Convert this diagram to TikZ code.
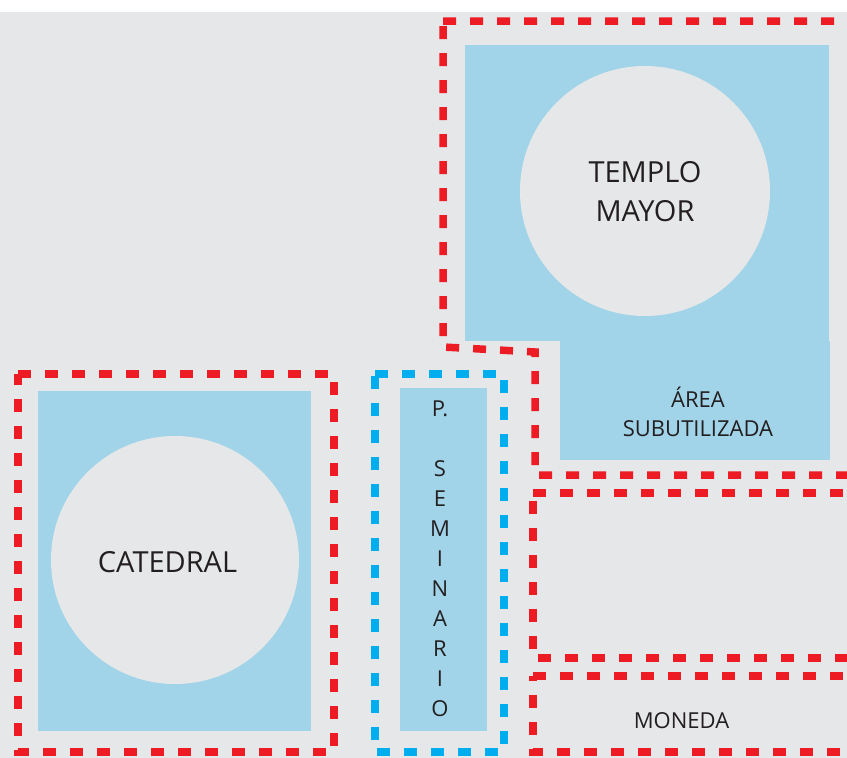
\documentclass[tikz,border=0pt]{standalone}
\usepackage{fontspec}
\setmainfont{Open Sans}
\definecolor{bggrey}{HTML}{E6E7E8}
\definecolor{areablue}{HTML}{A2D4E9}
\definecolor{redline}{HTML}{ED1C24}
\definecolor{cyanline}{HTML}{00AEEF}
\definecolor{txt}{HTML}{231F20}
\tikzset{
  reddash/.style={draw=redline, line width=7.5pt, dash pattern=on 13pt off 14pt},
  cyandash/.style={draw=cyanline, line width=7.5pt, dash pattern=on 13pt off 14pt},
  zone/.style={fill=areablue, draw=none},
  plaza/.style={fill=bggrey, draw=none},
  bigtxt/.style={text=txt, font=\fontsize{29}{39}\selectfont, align=center, inner sep=0pt},
  smalltxt/.style={text=txt, font=\fontsize{22}{29}\selectfont, align=center, inner sep=0pt},
  vtxt/.style={text=txt, font=\fontsize{22}{30}\selectfont, align=center, inner sep=0pt}
}
\begin{document}
\begin{tikzpicture}[x=1pt,y=-1pt]
\useasboundingbox (0,0) rectangle (847,758);
\fill[white] (0,0) rectangle (847,758);
\fill[bggrey] (0,12) rectangle (847,758);
% fills
\path[zone] (465,45) rectangle (829,341);
\path[zone] (560,341) rectangle (830,460);
\path[zone] (38,391) rectangle (311,731);
\path[zone] (400,388) rectangle (487,731);
\node[plaza, circle, minimum size=250pt, inner sep=0pt] (templocirc) at (645,191) {};
\node[plaza, circle, minimum size=248pt, inner sep=0pt] (catcirc) at (175,560) {};
% texts
\node[bigtxt] (templo) at (645,192) {TEMPLO\\MAYOR};
\node[bigtxt] (catedral) at (167.5,562) {CATEDRAL};
\node[smalltxt] (area) at (698,412) {ÁREA\\SUBUTILIZADA};
\node[smalltxt] (moneda) at (681.5,721) {MONEDA};
\node[vtxt] (seminario) at (440,558.5) {P.\\[30pt]S\\E\\M\\I\\N\\A\\R\\I\\O};
% dashed outlines
\draw[reddash] (443,21) -- (851,21) -- (851,475) -- (535,475) -- (535,352) -- (443,347) -- cycle;
\draw[reddash] (533,493) -- (851,493) -- (851,658) -- (533,658) -- cycle;
\draw[reddash] (533,676) -- (851,676) -- (851,752) -- (533,752) -- cycle;
\draw[reddash] (18,374) -- (334,374) -- (334,752) -- (18,752) -- cycle;
\draw[cyandash] (375,374) -- (504,374) -- (504,752) -- (375,752) -- cycle;
\end{tikzpicture}
\end{document}
